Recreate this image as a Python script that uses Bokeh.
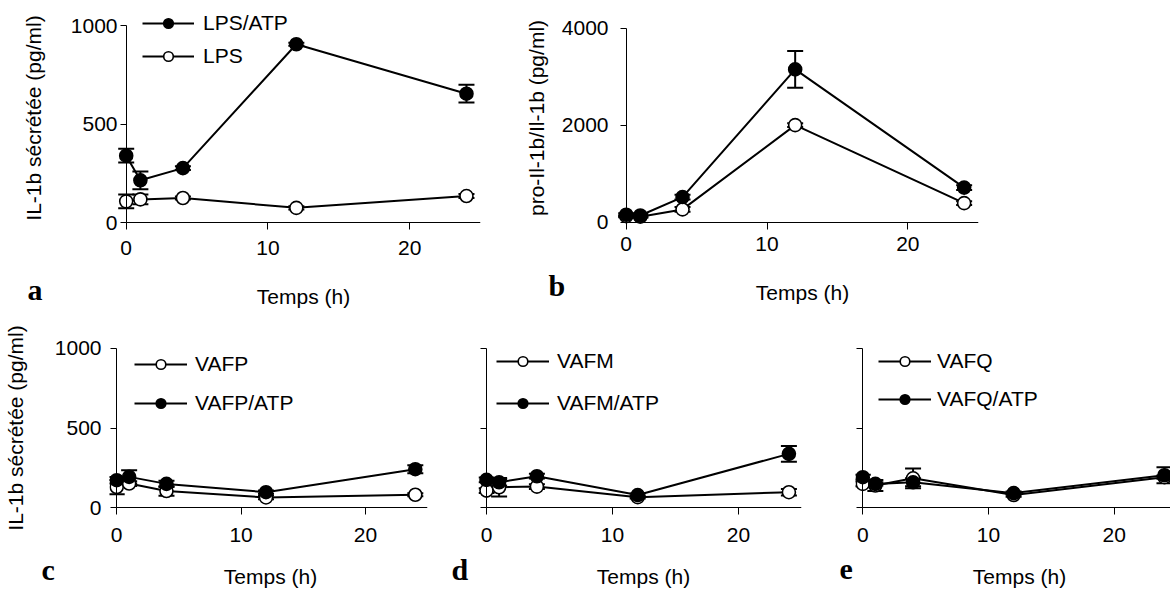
from bokeh.plotting import figure
from bokeh.models import (ColumnDataSource, LinearAxis, FixedTicker, Range1d, Whisker,
                          TeeHead, Legend, LegendItem, Label)
from bokeh.layouts import row, column
from bokeh.embed import file_html
from bokeh.resources import INLINE

# ---------------- data ----------------
hours = [0, 1, 4, 12, 24]

a_lps_atp = [340, 215, 277, 906, 655]
a_lps_atp_err = [35, 45, 10, 8, 45]
a_lps = [108, 118, 125, 75, 135]
a_lps_err = [35, 25, 8, 8, 10]

b_lps_atp = [150, 135, 515, 3150, 710]
b_lps_atp_err = [30, 30, 50, 380, 50]
b_lps = [120, 110, 260, 2000, 390]
b_lps_err = [20, 20, 50, 40, 40]

c_vafp = [130, 152, 105, 65, 82]
c_vafp_err = [45, 15, 30, 12, 10]
c_vafp_atp = [173, 194, 150, 98, 242]
c_vafp_atp_err = [20, 42, 20, 10, 25]

d_vafm = [108, 129, 133, 67, 98]
d_vafm_err = [15, 58, 15, 8, 20]
d_vafm_atp = [175, 160, 198, 80, 338]
d_vafm_atp_err = [15, 20, 15, 10, 50]

e_vafq = [150, 140, 185, 80, 192]
e_vafq_err = [15, 35, 62, 10, 10]
e_vafq_atp = [192, 150, 160, 92, 204]
e_vafq_atp_err = [15, 10, 25, 10, 50]

x_ticks = [0, 10, 20]
y_ticks_il = [0, 500, 1000]
y_ticks_pro = [0, 2000, 4000]
x_title = "Temps (h)"

FONT = "Liberation Sans"
TXT = "21px"


def style_hidden_labels(ax):
    ax.major_label_text_color = None
    ax.major_label_text_font_size = "1px"
    ax.major_label_standoff = 0
    ax.minor_tick_in = 0
    ax.minor_tick_out = 0
    ax.axis_line_color = "black"
    ax.axis_line_width = 1
    ax.major_tick_line_color = "black"
    ax.major_tick_line_width = 1


def style_label_axis(ax):
    ax.axis_line_color = None
    ax.major_tick_line_color = None
    ax.minor_tick_line_color = None
    ax.major_tick_in = 0
    ax.major_tick_out = 0
    ax.minor_tick_in = 0
    ax.minor_tick_out = 0
    ax.major_label_text_font = FONT
    ax.major_label_text_font_size = TXT
    ax.major_label_text_color = "black"
    ax.axis_label_text_font = FONT
    ax.axis_label_text_font_size = TXT
    ax.axis_label_text_font_style = "normal"
    ax.axis_label_text_color = "black"


def make_panel(width, height, borders, xr, yr, ytop, yticks, ylabel,
               ylab_standoff, ylab_label_standoff, xlab_standoff,
               series, legend_cfg):
    left, right, top, bottom = borders
    p = figure(width=width, height=height, x_range=Range1d(*xr), y_range=Range1d(*yr),
               x_axis_type=None, y_axis_type=None, output_backend="svg",
               toolbar_location=None, min_border_left=left, min_border_right=right,
               min_border_top=top, min_border_bottom=bottom)
    p.outline_line_color = None
    p.background_fill_color = "white"
    p.border_fill_color = "white"

    # tick labels along the frame edges (no lines)
    xlab = LinearAxis(ticker=FixedTicker(ticks=x_ticks))
    style_label_axis(xlab)
    xlab.major_label_standoff = xlab_standoff
    p.add_layout(xlab, "below")
    if ylabel is not None:
        ylab = LinearAxis(ticker=FixedTicker(ticks=yticks), axis_label=ylabel)
        style_label_axis(ylab)
        ylab.major_label_standoff = ylab_standoff
        ylab.axis_label_standoff = ylab_label_standoff
        p.add_layout(ylab, "left")

    # axis lines and ticks crossing at the origin
    xline = LinearAxis(fixed_location=0, ticker=FixedTicker(ticks=x_ticks), bounds=(0, xr[1]))
    style_hidden_labels(xline)
    xline.major_tick_out = 0
    xline.major_tick_in = 7
    p.add_layout(xline, "above")
    yline = LinearAxis(fixed_location=0, ticker=FixedTicker(ticks=yticks), bounds=(0, ytop))
    style_hidden_labels(yline)
    if ylabel is not None:
        yline.major_tick_out = 0
        yline.major_tick_in = 6
        p.add_layout(yline, "right")
    else:
        yline.major_tick_out = 6
        yline.major_tick_in = 0
        p.add_layout(yline, "left")

    srcs = []
    for name, vals, errs, filled in series:
        src = ColumnDataSource(dict(t=hours, m=vals,
                                    up=[v + e for v, e in zip(vals, errs)],
                                    lo=[v - e for v, e in zip(vals, errs)]))
        srcs.append((name, src, filled))
        w = Whisker(source=src, base="t", upper="up", lower="lo", dimension="height",
                    line_color="black", line_width=2, level="underlay",
                    upper_head=TeeHead(size=16, line_color="black", line_width=2),
                    lower_head=TeeHead(size=16, line_color="black", line_width=2))
        p.add_layout(w)
    lines = {}
    for name, src, filled in srcs:
        lines[name] = p.line("t", "m", source=src, line_color="black", line_width=2)
    marks = {}
    for name, src, filled in sorted(srcs, key=lambda s: s[2]):
        marks[name] = p.scatter("t", "m", source=src, marker="circle", size=13,
                                line_color="black", line_width=1.6,
                                fill_color="black" if filled else "white")

    if legend_cfg is not None:
        names, loc, gw, spacing, standoff = legend_cfg
        leg = Legend(items=[LegendItem(label=n, renderers=[lines[n], marks[n]]) for n in names],
                     location=loc, glyph_width=gw, glyph_height=24, label_height=24,
                     spacing=spacing, padding=0, margin=0, label_standoff=standoff,
                     border_line_color=None, background_fill_alpha=0,
                     label_text_font=FONT, label_text_font_size=TXT,
                     label_text_color="black")
        p.add_layout(leg)
    return p


def text_strip(width, height, texts):
    s = figure(width=width, height=height, x_range=Range1d(0, 1), y_range=Range1d(0, 1),
               x_axis_type=None, y_axis_type=None, output_backend="svg",
               toolbar_location=None, min_border=0)
    s.outline_line_color = None
    for txt, x, y, kind in texts:
        if kind == "letter":
            s.add_layout(Label(x=x, y=y, x_units="screen", y_units="screen", text=txt,
                               text_font="Liberation Serif", text_font_style="bold",
                               text_font_size="30px", text_color="black",
                               text_baseline="alphabetic", text_align="left"))
        else:
            s.add_layout(Label(x=x, y=y, x_units="screen", y_units="screen", text=txt,
                               text_font=FONT, text_font_size=TXT, text_color="black",
                               text_baseline="alphabetic", text_align="center"))
    return s


pa = make_panel(490, 268, (117, 10, 5, 34), (-0.614, 24.99), (-40, 1103), 1000, y_ticks_il,
                "IL-1b sécrétée (pg/ml)", 0, 23, 10,
                [("LPS", a_lps, a_lps_err, False), ("LPS/ATP", a_lps_atp, a_lps_atp_err, True)],
                (["LPS/ATP", "LPS"], (25, 162), 52, 9, 9))

pb = make_panel(498, 268, (127, 10, 5, 38), (-0.618, 25.02), (-175, 4469), 4000, y_ticks_pro,
                "pro-Il-1b/Il-1b (pg/ml)", 9, 11, 6,
                [("LPS", b_lps, b_lps_err, False), ("LPS/ATP", b_lps_atp, b_lps_atp_err, True)],
                None)

pc = make_panel(437, 227, (105, 10, 15, 37), (-0.579, 24.98), (-48, 1048), 1000, y_ticks_il,
                "IL-1b sécrétée (pg/ml)", 8, 25, 12,
                [("VAFP", c_vafp, c_vafp_err, False), ("VAFP/ATP", c_vafp_atp, c_vafp_atp_err, True)],
                (["VAFP", "VAFP/ATP"], (25, 100), 53, 15, 8))

pd_ = make_panel(374, 227, (41, 10, 15, 37), (-0.635, 25.0), (-48, 1048), 1000, y_ticks_il,
                 None, 0, 0, 12,
                 [("VAFM", d_vafm, d_vafm_err, False), ("VAFM/ATP", d_vafm_atp, d_vafm_atp_err, True)],
                 (["VAFM", "VAFM/ATP"], (18, 100), 53, 18, 8))

pe = make_panel(359, 227, (44, 0, 15, 37), (-0.58, 24.48), (-48, 1048), 1000, y_ticks_il,
                None, 0, 0, 12,
                [("VAFQ", e_vafq, e_vafq_err, False), ("VAFQ/ATP", e_vafq_atp, e_vafq_atp_err, True)],
                (["VAFQ", "VAFQ/ATP"], (23, 104), 53, 14, 6))

strip_top = text_strip(1170, 57, [("a", 27, 36, "letter"), ("b", 548, 40, "letter"),
                                  (x_title, 303, 29, "axis"), (x_title, 802, 33, "axis")])
strip_bottom = text_strip(1170, 39, [("c", 41, 22, "letter"), ("d", 451, 22, "letter"),
                                     ("e", 839, 22, "letter"),
                                     (x_title, 270, 15, "axis"), (x_title, 643, 15, "axis"),
                                     (x_title, 1019, 15, "axis")])

layout = column(row(pa, pb), strip_top, row(pc, pd_, pe), strip_bottom)
open("out.html", "w").write(file_html(layout, INLINE))
